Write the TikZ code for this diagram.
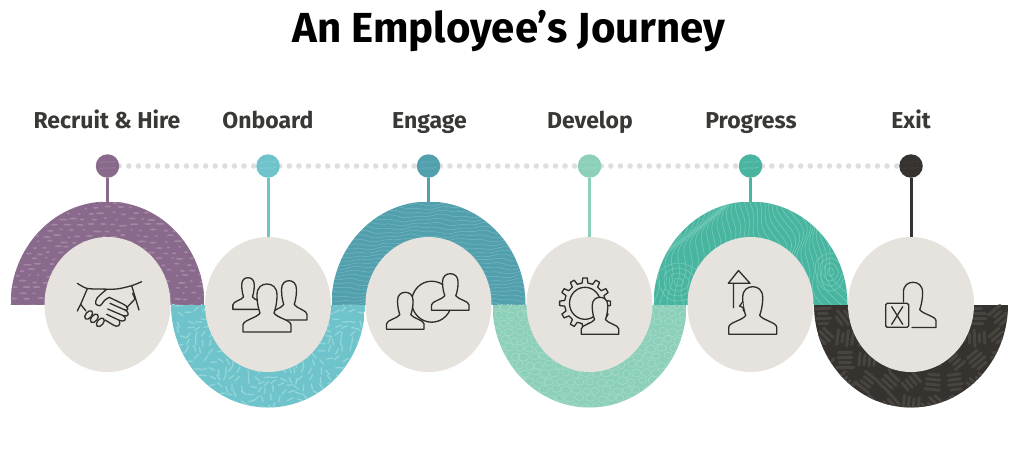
\documentclass[tikz,border=0pt]{standalone}
\usepackage{fontspec}
\setmainfont{Fira Sans}
\usetikzlibrary{shapes.geometric}
\pgfdeclarelayer{bg}\pgfsetlayers{bg,main}
\definecolor{cRec}{HTML}{8A6A8C}\definecolor{cRecL}{HTML}{A286A3}
\definecolor{cOnb}{HTML}{6FC4CB}\definecolor{cOnbL}{HTML}{93D5D9}
\definecolor{cEng}{HTML}{52A0AD}\definecolor{cEngL}{HTML}{78B8C3}
\definecolor{cDev}{HTML}{8DD0BA}\definecolor{cDevL}{HTML}{A6DBCA}
\definecolor{cPro}{HTML}{49B5A0}\definecolor{cProL}{HTML}{7ACFBD}
\definecolor{cExi}{HTML}{36322F}\definecolor{cExiL}{HTML}{48443F}
\definecolor{cDisc}{HTML}{E6E3DE}\definecolor{cTxt}{HTML}{3A3835}\definecolor{cDots}{HTML}{DDDEE1}
\definecolor{cIcon}{HTML}{2F2C2A}
\tikzset{
  stepdisc/.style={ellipse,fill=cDisc,minimum width=126pt,minimum height=135pt,inner sep=0pt,outer sep=0pt},
  stepdot/.style={circle,minimum size=23.5pt,inner sep=0pt,outer sep=0pt},
  steptext/.style={anchor=base,text=cTxt,font=\fontsize{23}{26}\selectfont\bfseries},
  titletext/.style={anchor=base,text=black,font=\fontsize{42}{46}\selectfont\bfseries},
  stemline/.style={line width=3pt},
  dotline/.style={cDots,line width=5.6pt,line cap=round,dash pattern=on 0pt off 9.6pt},
  iconline/.style={cIcon,line width=1.3pt,line join=round,line cap=round},
}
% textures: use \cx and \sgn
\newcommand{\texRec}{\foreach \i in {0,...,17}{\foreach \j in {0,...,18}{
  \pgfmathsetmacro{\xa}{\cx-97+\i*11.4+mod(\j,2)*5.5+(rnd-.5)*5}\pgfmathsetmacro{\ya}{304.5-\j*5.7+(rnd-.5)*2.5}\pgfmathsetmacro{\ra}{1.2+rnd*3.4}
  \fill[cRecL] (\xa,\ya) ellipse [x radius=\ra,y radius=0.95];}}}
\newcommand{\texOnb}{\foreach \i in {0,...,25}{\foreach \j in {0,...,13}{
  \pgfmathsetmacro{\xa}{\cx-97+\i*7.8+(rnd-.5)*4}\pgfmathsetmacro{\ya}{304.5+\j*8+(rnd-.5)*4}
  \pgfmathsetmacro{\an}{70*sin(\xa*5)+50*sin(\ya*7)+30*rnd}\pgfmathsetmacro{\xb}{\xa+6*cos(\an)}\pgfmathsetmacro{\yb}{\ya+6*sin(\an)}
  \draw[cOnbL,line width=1.3pt,line cap=round] (\xa,\ya) -- (\xb,\yb);}}}
\newcommand{\texEng}{\foreach \yy in {204,208,...,304}{
  \draw[cEngL,line width=.45pt] plot[smooth,domain=\cx-97:\cx+97,samples=28] (\x,{\yy+1.3*sin(\x*6+\yy*9)+.8*sin(\x*15+\yy*4)});}}
\newcommand{\texDev}{\foreach \i in {0,...,19}{\foreach \j in {0,...,12}{
  \pgfmathsetmacro{\xa}{\cx-97+\i*10.2+mod(\j,2)*5+rnd*3}\pgfmathsetmacro{\ya}{304.5+\j*8.4+rnd*3}\pgfmathsetmacro{\ra}{3.4+rnd*1.8}\pgfmathsetmacro{\rb}{3+rnd*1.2}
  \draw[cDevL,line width=.6pt] (\xa,\ya) ellipse [x radius=\ra,y radius=\rb];}}}
\newcommand{\texPro}{\foreach \xo in {-100,-94,...,100}{
  \draw[cProL,line width=.5pt] plot[smooth,domain=200:306,samples=20] ({\cx+\xo+7*sin(\x*3+\xo*2)+3.5*sin(\x*7+\xo*5)+.35*\xo*(300-\x)/100*(-1)},\x);}
  \foreach \rr in {4,9,14,19}{
    \draw[cProL,line width=.5pt] plot[smooth cycle,domain=0:330,samples=12] ({\cx-72+\rr*1.1*cos(\x)*(1+.1*sin(3*\x+\rr*9))},{282+\rr*sin(\x)});
    \draw[cProL,line width=.5pt] plot[smooth cycle,domain=0:330,samples=12] ({\cx+80+\rr*.8*cos(\x)*(1+.1*sin(3*\x+\rr*9))},{272+\rr*sin(\x)});}}
\newcommand{\texExi}{\foreach \i in {0,...,8}{\foreach \j in {0,...,4}{
  \pgfmathsetmacro{\xa}{\cx-88+\i*22}\pgfmathsetmacro{\ya}{316+\j*22}
  \pgfmathsetmacro{\an}{45*int(rnd*4)+(rnd-.5)*15}
  \foreach \k in {-1.5,-.5,.5,1.5}{
    \pgfmathsetmacro{\dl}{4+rnd*5}
    \pgfmathsetmacro{\xs}{\xa-\k*5*sin(\an)}\pgfmathsetmacro{\ys}{\ya+\k*5*cos(\an)}
    \pgfmathsetmacro{\xp}{\xs-\dl*cos(\an)}\pgfmathsetmacro{\yp}{\ys-\dl*sin(\an)}
    \pgfmathsetmacro{\xq}{\xs+\dl*cos(\an)}\pgfmathsetmacro{\yq}{\ys+\dl*sin(\an)}
    \draw[cExiL,line width=3pt,line cap=round] (\xp,\yp) -- (\xq,\yq);}}}}
% \band{cx}{sign}{colour}{texture}
\newcommand{\band}[4]{\begin{scope}
  \def\cx{#1}\def\sgn{#2}
  \clip (#1-97,304.5) rectangle (#1+97,304.5+#2*103);
  \clip (#1,304.5) ellipse [x radius=97,y radius=103];
  \fill[#3] (#1-97,304.5) rectangle (#1+97,304.5+#2*103);
  #4
\end{scope}}
% \person{cx}{top}{sx}{sy}
\newcommand{\person}[4]{\draw[iconline,fill=cDisc,shift={(#1,#2)},xscale=#3,yscale=#4]
  (-24,48) -- (-24,41) .. controls (-24,36) and (-10,34) .. (-7,29) .. controls (-8,26) and (-10,20) .. (-10,11) .. controls (-10,3) and (-5,0) .. (0,0) .. controls (5,0) and (10,3) .. (10,11) .. controls (10,20) and (8,26) .. (7,29) .. controls (10,34) and (24,36) .. (24,41) -- (24,48) -- cycle;}
% light marks on a pin head
\newcommand{\pinmarks}[2]{\draw[#1,line width=.7pt,opacity=.7] (#2)++(-8,-3) .. controls +(5,-3) and +(-4,3) .. ++(16,-2) (#2)++(-8,3) .. controls +(5,-3) and +(-4,3) .. ++(16,-2);}
\begin{document}
\begin{tikzpicture}[x=1pt,y=-1pt]
\useasboundingbox (0,0) rectangle (1017,456);
\pgfmathsetseed{4242}
\node[titletext] (title) at (509,42) {An Employee’s Journey};
\node[steptext] (t1) at (107,128) {Recruit \& Hire};
\node[steptext] (t2) at (268,128) {Onboard};
\node[steptext] (t3) at (429.5,128) {Engage};
\node[steptext] (t4) at (590,128) {Develop};
\node[steptext] (t5) at (751,128) {Progress};
\node[steptext] (t6) at (911,128) {Exit};
\node[stepdot,fill=cRec] (d1) at (107.5,166) {};
\node[stepdot,fill=cOnb] (d2) at (268,166) {};
\node[stepdot,fill=cEng] (d3) at (428.5,166) {};
\node[stepdot,fill=cDev] (d4) at (589.5,166) {};
\node[stepdot,fill=cPro] (d5) at (750.5,166) {};
\node[stepdot,fill=cExi] (d6) at (911,166) {};
\pinmarks{cRecL}{d1}\pinmarks{cOnbL}{d2}\pinmarks{cEngL}{d3}\pinmarks{cDevL}{d4}\pinmarks{cProL}{d5}\pinmarks{cExiL}{d6}
\node[stepdisc] (c1) at (107.5,304.5) {};
\node[stepdisc] (c2) at (268,304.5) {};
\node[stepdisc] (c3) at (428.5,304.5) {};
\node[stepdisc] (c4) at (589.5,304.5) {};
\node[stepdisc] (c5) at (750.5,304.5) {};
\node[stepdisc] (c6) at (911,304.5) {};
\begin{pgfonlayer}{bg}
  \draw[dotline] (d1) -- (d2); \draw[dotline] (d2) -- (d3); \draw[dotline] (d3) -- (d4);
  \draw[dotline] (d4) -- (d5); \draw[dotline] (d5) -- (d6);
  \draw[stemline,cRec] (d1) -- (c1.north);
  \draw[stemline,cOnb] (d2) -- (c2.north);
  \draw[stemline,cEng] (d3) -- (c3.north);
  \draw[stemline,cDev] (d4) -- (c4.north);
  \draw[stemline,cPro] (d5) -- (c5.north);
  \draw[stemline,cExi] (d6) -- (c6.north);
  \band{107.5}{-1}{cRec}{\texRec}
  \band{268}{1}{cOnb}{\texOnb}
  \band{428.5}{-1}{cEng}{\texEng}
  \band{589.5}{1}{cDev}{\texDev}
  \band{750.5}{-1}{cPro}{\texPro}
  \band{911}{1}{cExi}{\texExi}
\end{pgfonlayer}
% handshake
\begin{scope}[shift={(60,265)},x=.3333pt,y=-.3333pt,iconline]
  \draw plot[smooth] coordinates {(52,55) (80,70) (120,72) (170,72) (215,62) (245,50)};
  \draw (82,71) -- (62,118) -- (52,138);
  \draw (62,118) -- (78,138);
  \draw (215,62) -- (237,135);
  \draw (218,85) -- (225,102) -- (200,128);
  \draw plot[smooth] coordinates {(140,73) (112,98) (107,116) (120,122) (135,105) (148,97)};
  \draw (148,97) -- (185,115) .. controls (208,125) and (208,138) .. (195,135) -- (150,115);
  \draw (195,135) .. controls (212,145) and (205,157) .. (190,152) -- (143,132);
  \draw (190,152) .. controls (205,165) and (190,172) .. (178,166) -- (140,148);
  \draw (178,166) .. controls (185,183) and (170,188) .. (160,180) -- (135,165);
  \foreach \px/\py in {86/150,103/160,121/172}{
    \draw[rotate around={-40:(\px,\py)}] (\px,\py) ellipse [x radius=9,y radius=15];}
\end{scope}
% onboard
\person{248}{277.7}{.63}{.66}
\person{289}{280.7}{.75}{.82}
\person{267}{284}{1}{1}
% engage
\draw[iconline] (431.7,301.7) ellipse [x radius=20,y radius=20.5];
\person{405.3}{292.3}{.78}{.77}
\person{450.3}{273.7}{.78}{.76}
% develop
\begin{scope}[shift={(585,303.3)},iconline]
  \draw (-8:20.5) \foreach \a in {0,30,...,330}{ -- (\a-8:20.5) -- (\a-5:25.5) -- (\a+5:25.5) -- (\a+8:20.5) -- (\a+22:20.5)} -- cycle;
  \draw (0,0) ellipse [x radius=15.5,y radius=16];
\end{scope}
\person{600}{297.3}{.78}{.77}
% progress
\draw[iconline] (733.5,307.7) -- (733.5,283.3) (728.3,283.3) -- (738.5,270.5) -- (750,283.3) -- cycle;
\person{752.7}{286.7}{1}{.99}
\draw[iconline,fill=cDisc] (742.7,302) -- (739.5,306) -- (743,307.5) -- (743.5,311);
% exit
\begin{scope}[shift={(913,282.3)},xscale=.96,yscale=.94,iconline]
  \draw (-10,21) -- (-10,11) .. controls (-10,3) and (-5,0) .. (0,0) .. controls (5,0) and (10,3) .. (10,11) .. controls (10,20) and (8,26) .. (7,29) .. controls (10,34) and (24,36) .. (24,41) -- (24,48) -- (-1,48);
\end{scope}
\draw[iconline,rounded corners=1.5pt] (885.7,303.3) rectangle (908.7,327.3);
\draw[iconline] (891.7,306.7) -- (902.7,324.3) (902.7,306.7) -- (891.7,324.3);
\end{tikzpicture}
\end{document}
